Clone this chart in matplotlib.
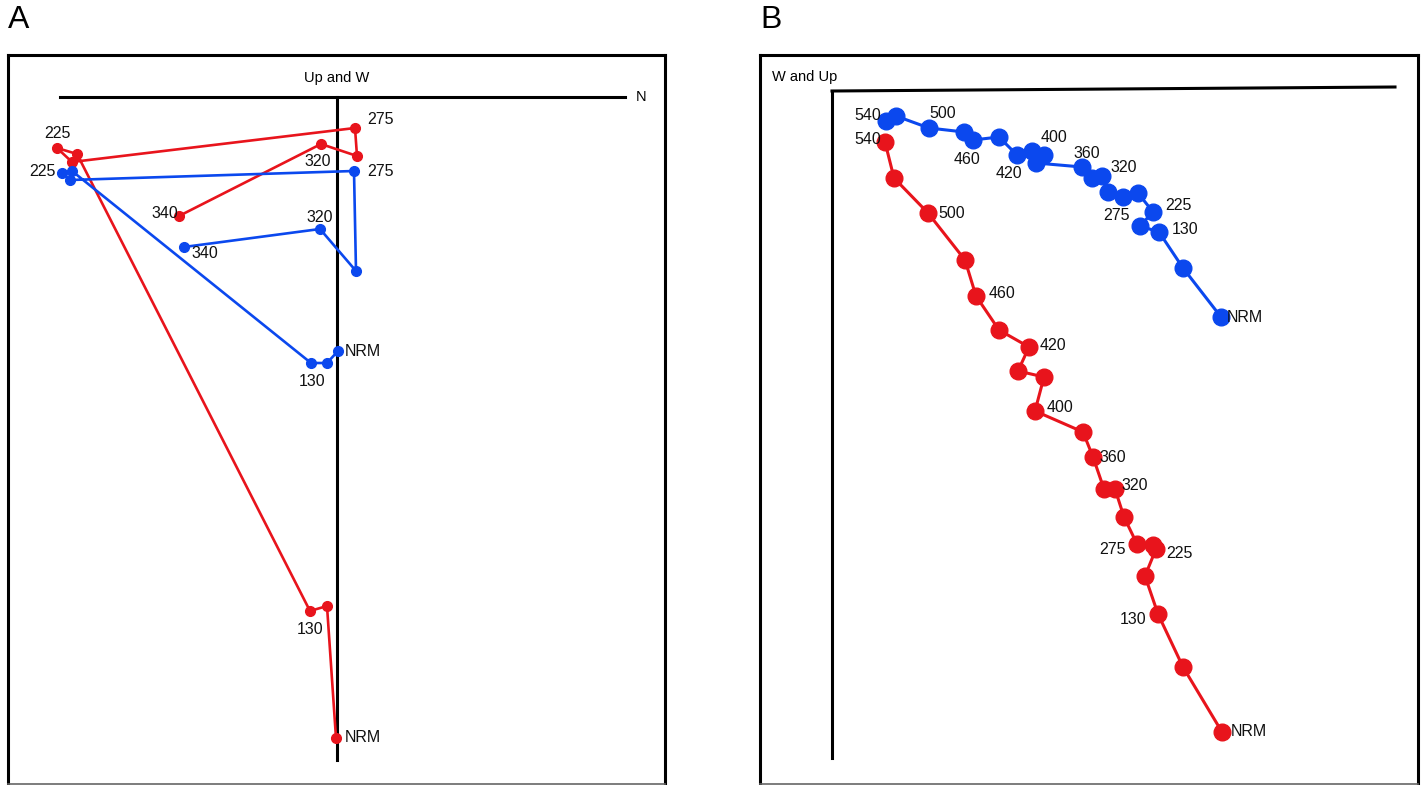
import matplotlib
matplotlib.use("Agg")
import matplotlib.pyplot as plt

plt.rcParams["font.family"] = ["Liberation Sans", "DejaVu Sans"]

RED = "#e8141c"
BLUE = "#0b48ee"

# Panel A: orthogonal projection, units relative to the axis origin
a_red_x = [-0.01, -0.10, -0.27, -2.60, -2.80, -2.65, 0.18, 0.20, -0.16, -1.58]
a_red_y = [-6.41, -5.09, -5.14, -0.57, -0.51, -0.65, -0.31, -0.59, -0.47, -1.19]
a_red_lab = ["NRM", "", "130", "", "225", "", "275", "", "320", "340"]

a_blue_x = [0.01, -0.10, -0.26, -2.65, -2.75, -2.67, 0.17, 0.19, -0.17, -1.53]
a_blue_y = [-2.54, -2.66, -2.66, -0.74, -0.76, -0.83, -0.74, -1.74, -1.32, -1.50]
a_blue_lab = ["NRM", "", "130", "", "225", "", "275", "", "320", "340"]

# Panel B
b_blue_x = [3.89, 3.51, 3.27, 3.08, 3.21, 3.06, 2.91, 2.76, 2.70, 2.60, 2.50,
            2.04, 2.12, 2.00, 1.85, 1.67, 1.41, 1.32, 0.97, 0.64, 0.54]
b_blue_y = [-2.27, -1.78, -1.42, -1.36, -1.22, -1.03, -1.07, -1.02, -0.86, -0.88, -0.77,
            -0.73, -0.65, -0.61, -0.65, -0.47, -0.50, -0.42, -0.38, -0.26, -0.31]
b_blue_lab = ["NRM", "", "130", "", "225", "", "", "275", "320", "", "360",
              "", "", "400", "420", "", "460", "", "500", "", "540"]

b_red_x = [3.90, 3.51, 3.26, 3.13, 3.24, 3.21, 3.05, 2.92, 2.83, 2.72, 2.61,
           2.51, 2.03, 2.12, 1.86, 1.97, 1.67, 1.44, 1.33, 0.96, 0.62, 0.53]
b_red_y = [-6.42, -5.77, -5.24, -4.86, -4.59, -4.55, -4.54, -4.27, -3.99, -3.99, -3.67,
           -3.42, -3.21, -2.87, -2.81, -2.57, -2.40, -2.06, -1.70, -1.23, -0.88, -0.52]
b_red_lab = ["NRM", "", "130", "", "225", "", "275", "", "320", "", "360",
             "", "400", "", "", "420", "", "460", "", "500", "", "540"]

# label offsets (pixels) keyed by label text
A_RED_OFF = {"NRM": (27, 0), "130": (0, -18), "225": (0, 14), "275": (26, 8),
             "320": (-3, -17), "340": (-14, 2)}
A_BLUE_OFF = {"NRM": (25, 0), "130": (1, -18), "225": (-20, 2), "275": (26, 0),
              "320": (0, 12), "340": (21, -6)}
B_BLUE_OFF = {"NRM": (24, -1), "130": (26, 3), "225": (25, 6), "275": (8, -23),
              "320": (22, 9), "360": (5, 13), "400": (22, 13), "420": (-8, -18),
              "460": (-6, -19), "500": (14, 15), "540": (-18, 5)}
B_RED_OFF = {"NRM": (27, 0), "130": (-25, -5), "225": (23, -5), "275": (-25, -6),
             "320": (20, 3), "360": (20, 0), "400": (25, 4), "420": (24, 2),
             "460": (26, 2), "500": (24, 0), "540": (-17, 2)}

W, H = 1426, 785


def panel(rect_px, xlim, ylim):
    l, t, r, b = rect_px
    ax = fig.add_axes([l / W, 1 - b / H, (r - l) / W, (b - t) / H])
    ax.set_xlim(*xlim)
    ax.set_ylim(*ylim)
    ax.set_xticks([])
    ax.set_yticks([])
    for s in ["top", "left", "right"]:
        ax.spines[s].set_linewidth(2.2)
        ax.spines[s].set_color("black")
    ax.spines["bottom"].set_linewidth(1.2)
    ax.spines["bottom"].set_color("#666666")
    return ax


def series(ax, xs, ys, labs, offs, color, ms, lw):
    ax.plot(xs, ys, "-", color=color, lw=lw, marker="o", ms=ms,
            mfc=color, mec=color, zorder=3)
    for x, y, lab in zip(xs, ys, labs):
        if lab:
            dx, dy = offs[lab]
            ax.annotate(lab, (x, y), xytext=(dx, dy), textcoords="offset pixels",
                        ha="center", va="center", fontsize=11.5, color="#111111", zorder=4)


fig = plt.figure(figsize=(W / 100, H / 100), dpi=100)

# Panel A
axA = panel((8, 55, 665, 784), (-3.29, 3.28), (-6.87, 0.42))
axA.plot([-2.77, 2.88], [0, 0], color="black", lw=2.2, zorder=2)
axA.plot([0, 0], [0, -6.63], color="black", lw=2.2, zorder=2)
axA.text(0, 0.19, "Up and W", ha="center", va="center", fontsize=10.5)
axA.text(3.04, 0, "N", ha="center", va="center", fontsize=10.5)
series(axA, a_red_x, a_red_y, a_red_lab, A_RED_OFF, RED, 7, 1.9)
series(axA, a_blue_x, a_blue_y, a_blue_lab, A_BLUE_OFF, BLUE, 7, 1.9)

# Panel B
axB = panel((760, 55, 1418, 784), (-0.72, 5.86), (-6.94, 0.35))
axB.plot([0, 5.63], [-0.01, 0.03], color="black", lw=2.2, zorder=2)
axB.plot([0, 0], [-0.01, -6.68], color="black", lw=2.2, zorder=2)
axB.text(-0.60, 0.13, "W and Up", ha="left", va="center", fontsize=10.5)
series(axB, b_blue_x, b_blue_y, b_blue_lab, B_BLUE_OFF, BLUE, 12, 2.2)
series(axB, b_red_x, b_red_y, b_red_lab, B_RED_OFF, RED, 12, 2.2)

fig.text(8 / W, 1 - 20 / H, "A", fontsize=23, ha="left", va="center")
fig.text(760 / W, 1 - 20 / H, "B", fontsize=23, ha="left", va="center")

fig.savefig("out.png", dpi=100)
